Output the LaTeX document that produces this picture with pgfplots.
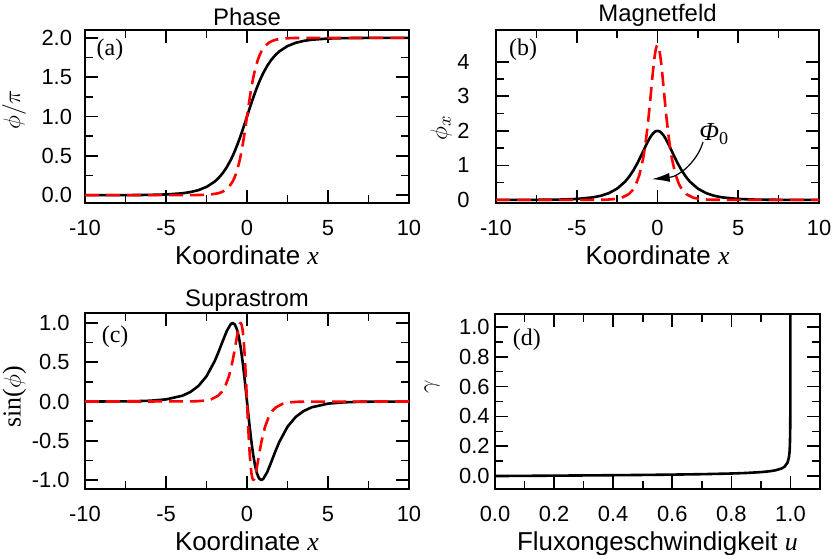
\documentclass[border=0pt]{standalone}
\usepackage{fontspec}
\setmainfont{Liberation Sans}
\newfontfamily\tms{Liberation Serif}
\usepackage{pgfplots}
\pgfplotsset{compat=1.18}
\usepackage{pgfplotstable}
\usetikzlibrary{arrows.meta}

% soliton, u = 0 (black): x, phase/pi, field, sin(phi)
\pgfplotstableread{
x p b s
-10 0.0001 0.0002 0.0002
-8 0.0004 0.0013 0.0013
-7 0.0012 0.0036 0.0036
-6 0.0032 0.0099 0.0099
-5 0.0086 0.0270 0.0269
-4 0.0233 0.0732 0.0732
-3.5 0.0385 0.1207 0.1205
-3 0.0634 0.1987 0.1977
-2.5 0.1043 0.3261 0.3218
-2 0.1713 0.5316 0.5125
-1.75 0.2191 0.6748 0.6353
-1.5 0.2795 0.8502 0.7695
-1.25 0.3551 1.0590 0.8984
-1 0.4488 1.2962 0.9872
-0.88 0.5006 1.4156 1.0000
-0.75 0.5618 1.5448 0.9811
-0.625 0.6257 1.6642 0.9230
-0.5 0.6942 1.7736 0.8196
-0.375 0.7667 1.8672 0.6691
-0.25 0.8425 1.9390 0.4749
-0.125 0.9206 1.9845 0.2469
0 1.0000 2.0000 0
0.125 1.0794 1.9845 -0.2469
0.25 1.1575 1.9390 -0.4749
0.375 1.2333 1.8672 -0.6691
0.5 1.3058 1.7736 -0.8196
0.625 1.3743 1.6642 -0.9230
0.75 1.4382 1.5448 -0.9811
0.88 1.4994 1.4156 -1.0000
1 1.5512 1.2962 -0.9872
1.25 1.6449 1.0590 -0.8984
1.5 1.7205 0.8502 -0.7695
1.75 1.7809 0.6748 -0.6353
2 1.8287 0.5316 -0.5125
2.5 1.8957 0.3261 -0.3218
3 1.9366 0.1987 -0.1977
3.5 1.9615 0.1207 -0.1205
4 1.9767 0.0732 -0.0732
5 1.9914 0.0270 -0.0269
6 1.9968 0.0099 -0.0099
7 1.9988 0.0036 -0.0036
8 1.9996 0.0013 -0.0013
10 1.9999 0.0002 -0.0002
}\blktab

% moving soliton (red, dashed)
\pgfplotstableread{
x p b s
-10 0 0 0
-3.568 0.0004 0.0030 0.0013
-3.122 0.0012 0.0081 0.0036
-2.676 0.0032 0.0222 0.0099
-2.230 0.0086 0.0605 0.0269
-1.784 0.0233 0.1641 0.0732
-1.561 0.0385 0.2706 0.1205
-1.338 0.0634 0.4455 0.1977
-1.115 0.1043 0.7312 0.3218
-0.892 0.1713 1.1920 0.5125
-0.781 0.2191 1.5130 0.6353
-0.669 0.2795 1.9063 0.7695
-0.558 0.3551 2.3745 0.8984
-0.446 0.4488 2.9063 0.9872
-0.392 0.5006 3.1741 1.0000
-0.335 0.5618 3.4637 0.9811
-0.279 0.6257 3.7315 0.9230
-0.223 0.6942 3.9767 0.8196
-0.167 0.7667 4.1866 0.6691
-0.112 0.8425 4.3476 0.4749
-0.056 0.9206 4.4496 0.2469
0 1.0000 4.4844 0
0.056 1.0794 4.4496 -0.2469
0.112 1.1575 4.3476 -0.4749
0.167 1.2333 4.1866 -0.6691
0.223 1.3058 3.9767 -0.8196
0.279 1.3743 3.7315 -0.9230
0.335 1.4382 3.4637 -0.9811
0.392 1.4994 3.1741 -1.0000
0.446 1.5512 2.9063 -0.9872
0.558 1.6449 2.3745 -0.8984
0.669 1.7205 1.9063 -0.7695
0.781 1.7809 1.5130 -0.6353
0.892 1.8287 1.1920 -0.5125
1.115 1.8957 0.7312 -0.3218
1.338 1.9366 0.4455 -0.1977
1.561 1.9615 0.2706 -0.1205
1.784 1.9767 0.1641 -0.0732
2.230 1.9914 0.0605 -0.0269
2.676 1.9968 0.0222 -0.0099
3.122 1.9988 0.0081 -0.0036
3.568 1.9996 0.0030 -0.0013
10 2 0 0
}\redtab

% bias vs fluxon velocity
\pgfplotstableread{
u g
0 0
0.1 0.00128
0.2 0.00260
0.3 0.00400
0.4 0.00556
0.5 0.00735
0.6 0.00955
0.7 0.01248
0.8 0.01697
0.85 0.02054
0.9 0.02628
0.93 0.03221
0.95 0.03873
0.97 0.05079
0.98 0.06269
0.99 0.08934
0.995 0.12683
0.997 0.16398
0.998 0.20100
0.999 0.28443
0.9995 0.40240
0.9998 0.6364
0.9999 0.9000
0.99995 1.2729
}\veltab

\pgfplotsset{
  every axis title shift=0pt,
  panel/.style={
    scale only axis,
    axis line style={line width=1bp},
    every tick/.style={black, line width=0.8bp},
    major tick length=6.5bp, minor tick length=4bp,
    tick align=inside,
    xmin=-10, xmax=10, xtick={-10,-5,0,5,10}, minor x tick num=1,
    /pgf/number format/assume math mode=true,
    tick label style={font=\fontsize{11}{13}\selectfont},
    xticklabel style={anchor=north, inner sep=0pt, yshift=-8.5bp},
    xlabel style={font=\fontsize{13}{15}\selectfont, at={(axis description cs:0.5,0)}, anchor=base, yshift=-30.5bp},
    title style={font=\fontsize{12}{14}\selectfont, at={(axis description cs:0.5,1)}, anchor=base, inner sep=0pt},
    ylabel style={font=\fontsize{13}{15}\selectfont, anchor=center},
    xlabel={Koordinate {\tms\itshape x}},
  },
  onedec/.style={yticklabel style={/pgf/number format/fixed, /pgf/number format/fixed zerofill, /pgf/number format/precision=1}},
  blkline/.style={black, line width=1.3bp, line join=round},
  redline/.style={red, line width=1.3bp, line join=round, dash pattern=on 7bp off 3.5bp},
}
\tikzset{lbl/.style={font=\tms\fontsize{12}{14}\selectfont}}

\begin{document}
\begin{tikzpicture}
\path[use as bounding box] (0,0) rectangle (418.5bp,-277.5bp);

% (a)
\begin{axis}[panel, onedec, at={(42.5bp,-101.5bp)}, anchor=south west,
  width=162bp, height=86.5bp,
  ymin=-0.1, ymax=2.1, ytick={0,0.5,1,1.5,2}, minor y tick num=1,
  yticklabel style={anchor=east, inner sep=0pt, xshift=-6.3bp},
  title={Phase}, title style={yshift=2.5bp},
  ylabel={$\phi/\pi$}, ylabel style={at={(axis description cs:-0.219,0.538)}}]
\addplot[blkline] table[x=x, y=p] {\blktab};
\addplot[redline] table[x=x, y=p] {\redtab};
\node[lbl] at (axis description cs:0.077,0.884) {(a)};
\end{axis}

% (b)
\begin{axis}[panel, at={(248bp,-101.5bp)}, anchor=south west,
  width=161.5bp, height=86.5bp,
  ymin=-0.09, ymax=4.92, ytick={0,1,2,3,4}, minor y tick num=1,
  yticklabel style={anchor=east, inner sep=0pt, xshift=-13bp},
  title={Magnetfeld}, title style={yshift=4.2bp},
  ylabel={$\phi_x$}, ylabel style={at={(axis description cs:-0.170,0.434)}}]
\addplot[blkline] table[x=x, y=b] {\blktab};
\addplot[redline] table[x=x, y=b] {\redtab};
\node[lbl] at (axis description cs:0.084,0.884) {(b)};
\draw[line width=0.6bp, -{Latex[length=9bp,width=4.5bp]}]
  (axis cs:2.82,1.68) .. controls (axis cs:2.5,1.15) and (axis cs:1.4,0.68) .. (axis cs:-0.36,0.6);
\node[font=\tms\itshape\fontsize{13}{15}\selectfont, anchor=west, inner sep=0pt]
  at (axis cs:2.57,1.9) {Φ\textsubscript{\upshape 0}};
\end{axis}

% (c)
\begin{axis}[panel, onedec, at={(42.5bp,-244.5bp)}, anchor=south west,
  width=162bp, height=88bp,
  ymin=-1.115, ymax=1.128, ytick={-1,-0.5,0,0.5,1}, minor y tick num=1,
  yticklabel style={anchor=east, inner sep=0pt, xshift=-7.5bp},
  title={Suprastrom}, title style={yshift=3.3bp},
  ylabel={{\tms sin(}$\phi${\tms)}}, ylabel style={at={(axis description cs:-0.218,0.523)}}]
\addplot[blkline] table[x=x, y=s] {\blktab};
\addplot[redline] table[x=x, y=s] {\redtab};
\node[lbl] at (axis description cs:0.093,0.864) {(c)};
\end{axis}

% (d)
\begin{axis}[panel, onedec, at={(247.5bp,-244.5bp)}, anchor=south west,
  width=162.5bp, height=87.5bp,
  xmin=0, xmax=1.1, xtick={0,0.2,0.4,0.6,0.8,1.0}, minor x tick num=1,
  xticklabel style={/pgf/number format/fixed, /pgf/number format/fixed zerofill, /pgf/number format/precision=1},
  ymin=-0.087, ymax=1.087, ytick={0,0.2,0.4,0.6,0.8,1.0}, minor y tick num=1,
  yticklabel style={anchor=east, inner sep=0pt, xshift=-2.5bp},
  xlabel={Fluxongeschwindigkeit {\tms\itshape u}},
  ylabel={$\gamma$}, ylabel style={at={(axis description cs:-0.194,0.583)}}]
\addplot[blkline] table[x=u, y=g] {\veltab};
\node[lbl] at (axis description cs:0.098,0.851) {(d)};
\end{axis}
\end{tikzpicture}
\end{document}
